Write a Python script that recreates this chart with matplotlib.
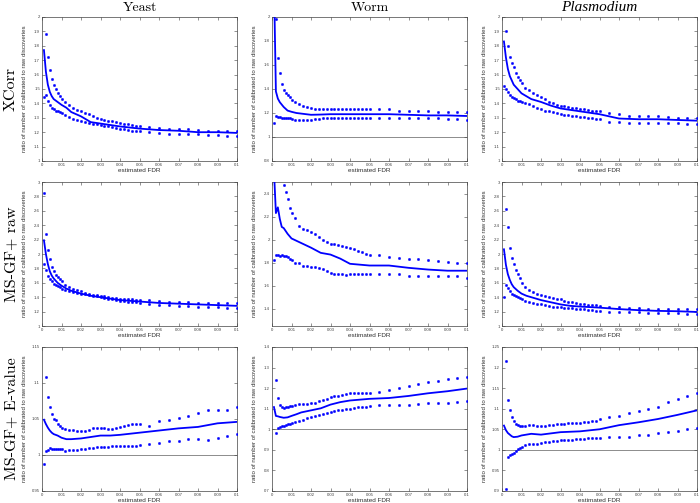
import numpy as np
import matplotlib
matplotlib.use('Agg')
import matplotlib.pyplot as plt
from matplotlib.ticker import FuncFormatter

nan = np.nan

# estimated FDR positions of the dotted bounds
x_dots = [0.001, 0.002, 0.003, 0.004, 0.005, 0.006, 0.007, 0.008, 0.009, 0.010,
          0.012, 0.014, 0.016, 0.018, 0.020, 0.022, 0.024, 0.026, 0.028, 0.030,
          0.032, 0.034, 0.036, 0.038, 0.040, 0.042, 0.044, 0.046, 0.048, 0.050,
          0.055, 0.060, 0.065, 0.070, 0.075, 0.080, 0.085, 0.090, 0.095, 0.100]
# estimated FDR positions of the solid median line
x_line = [0.001, 0.002, 0.003, 0.004, 0.005, 0.006, 0.008, 0.010, 0.0125, 0.015,
          0.020, 0.025, 0.030, 0.035, 0.040, 0.050, 0.060, 0.070, 0.080, 0.090, 0.100]

col_titles = ["Yeast", "Worm", "Plasmodium"]
row_titles = ["XCorr", "MS-GF+ raw", "MS-GF+ E-value"]

# ---------------- XCorr ----------------
yeast_xcorr_line = [1.77, 1.62, 1.53, 1.48, 1.45, 1.43, 1.41, 1.39, 1.37, 1.34,
                    1.31, 1.27, 1.26, 1.25, 1.24, 1.225, 1.215, 1.21, 1.20, 1.20, 1.195]
yeast_xcorr_upper = [nan, 1.88, 1.72, 1.63, 1.57, 1.53, 1.50, 1.47, 1.45, 1.43,
                     1.41, 1.39, 1.37, 1.355, 1.345, 1.335, 1.325, 1.31, 1.30, 1.29,
                     1.285, 1.28, 1.275, 1.27, 1.265, 1.26, 1.255, 1.25, 1.245, 1.24,
                     1.235, 1.23, 1.225, 1.22, 1.22, 1.215, 1.21, 1.21, 1.205, 1.205]
yeast_xcorr_lower = [1.445, 1.46, 1.42, 1.39, 1.37, 1.36, 1.35, 1.345, 1.34, 1.335,
                     1.32, 1.305, 1.295, 1.285, 1.28, 1.27, 1.265, 1.26, 1.255, 1.25,
                     1.245, 1.24, 1.235, 1.23, 1.225, 1.22, 1.215, 1.21, 1.21, 1.205,
                     1.20, 1.195, 1.19, 1.19, 1.185, 1.185, 1.18, 1.18, 1.175, 1.175]

worm_xcorr_line = [2.3, 1.38, 1.32, 1.29, 1.27, 1.25, 1.22, 1.21, 1.20, 1.195,
                   1.185, 1.187, 1.19, 1.19, 1.19, 1.19, 1.19, 1.185, 1.18, 1.18, 1.175]
worm_xcorr_upper = [nan, 1.98, 1.66, 1.53, 1.44, 1.395, 1.37, 1.35, 1.33, 1.31,
                    1.29, 1.275, 1.26, 1.25, 1.24, 1.235, 1.23, 1.23, 1.23, 1.23,
                    1.23, 1.23, 1.23, 1.23, 1.23, 1.23, 1.23, 1.23, 1.23, 1.23,
                    1.23, 1.23, 1.22, 1.22, 1.215, 1.215, 1.21, 1.21, 1.21, 1.21]
worm_xcorr_lower = [1.12, 1.175, 1.17, 1.165, 1.16, 1.16, 1.16, 1.155, 1.155, 1.15,
                    1.145, 1.14, 1.14, 1.14, 1.145, 1.15, 1.15, 1.155, 1.16, 1.16,
                    1.16, 1.16, 1.16, 1.16, 1.16, 1.16, 1.16, 1.16, 1.16, 1.16,
                    1.16, 1.16, 1.16, 1.155, 1.155, 1.155, 1.155, 1.15, 1.15, 1.145]

plas_xcorr_line = [1.83, 1.72, 1.64, 1.59, 1.56, 1.53, 1.50, 1.47, 1.45, 1.43,
                   1.41, 1.385, 1.365, 1.355, 1.345, 1.325, 1.295, 1.29, 1.29, 1.285, 1.28]
plas_xcorr_upper = [nan, 1.90, 1.80, 1.72, 1.68, 1.65, 1.61, 1.58, 1.56, 1.545,
                    1.51, 1.49, 1.47, 1.46, 1.445, 1.43, 1.41, 1.40, 1.39, 1.385,
                    1.38, 1.375, 1.37, 1.365, 1.36, 1.36, 1.355, 1.35, 1.35, 1.345,
                    1.335, 1.325, 1.315, 1.31, 1.31, 1.31, 1.305, 1.30, 1.30, 1.30]
plas_xcorr_lower = [1.52, 1.50, 1.48, 1.46, 1.445, 1.44, 1.43, 1.42, 1.415, 1.41,
                    1.405, 1.395, 1.38, 1.37, 1.36, 1.35, 1.345, 1.34, 1.33, 1.325,
                    1.32, 1.316, 1.313, 1.31, 1.308, 1.305, 1.302, 1.298, 1.294, 1.29,
                    1.27, 1.268, 1.266, 1.266, 1.264, 1.264, 1.262, 1.262, 1.26, 1.255]

# ---------------- MS-GF+ raw ----------------
yeast_raw_line = [2.19, 2.0, 1.86, 1.76, 1.70, 1.66, 1.60, 1.56, 1.52, 1.49,
                  1.45, 1.42, 1.40, 1.38, 1.36, 1.34, 1.32, 1.31, 1.30, 1.29, 1.28]
yeast_raw_upper = [2.85, 2.28, 2.05, 1.93, 1.82, 1.76, 1.71, 1.68, 1.65, 1.62,
                   1.57, 1.54, 1.52, 1.50, 1.48, 1.46, 1.45, 1.435, 1.425, 1.415,
                   1.41, 1.40, 1.39, 1.385, 1.38, 1.375, 1.37, 1.37, 1.365, 1.365,
                   1.36, 1.35, 1.34, 1.335, 1.33, 1.325, 1.32, 1.32, 1.315, 1.315]
yeast_raw_lower = [1.86, 1.78, 1.70, 1.65, 1.62, 1.59, 1.57, 1.555, 1.54, 1.52,
                   1.50, 1.49, 1.47, 1.46, 1.45, 1.44, 1.43, 1.42, 1.41, 1.40,
                   1.39, 1.38, 1.37, 1.36, 1.35, 1.345, 1.34, 1.335, 1.33, 1.325,
                   1.30, 1.29, 1.285, 1.28, 1.275, 1.27, 1.265, 1.26, 1.255, 1.25]

worm_raw_line = [2.6, 2.23, 2.28, 2.18, 2.11, 2.10, 2.05, 2.01, 1.99, 1.97,
                 1.93, 1.885, 1.87, 1.835, 1.79, 1.775, 1.775, 1.755, 1.74, 1.73, 1.73]
worm_raw_upper = [nan, nan, nan, nan, nan, 2.47, 2.41, 2.35, 2.27, 2.23,
                  2.19, 2.12, 2.09, 2.08, 2.065, 2.05, 2.02, 2.0, 1.98, 1.965,
                  1.96, 1.95, 1.945, 1.94, 1.93, 1.915, 1.90, 1.89, 1.875, 1.865,
                  1.865, 1.85, 1.84, 1.835, 1.83, 1.825, 1.815, 1.805, 1.80, 1.80]
worm_raw_lower = [1.82, 1.87, 1.865, 1.86, 1.865, 1.86, 1.855, 1.845, 1.83, 1.82,
                  1.80, 1.795, 1.775, 1.77, 1.765, 1.76, 1.755, 1.745, 1.725, 1.71,
                  1.705, 1.70, 1.70, 1.695, 1.70, 1.70, 1.70, 1.70, 1.70, 1.70,
                  1.70, 1.70, 1.70, 1.685, 1.685, 1.68, 1.68, 1.68, 1.68, 1.665]

plas_raw_line = [2.065, 1.85, 1.72, 1.64, 1.58, 1.54, 1.49, 1.45, 1.42, 1.40,
                 1.36, 1.33, 1.30, 1.28, 1.27, 1.255, 1.235, 1.22, 1.21, 1.205, 1.195]
plas_raw_upper = [nan, 2.625, 2.37, 2.08, 1.95, 1.86, 1.78, 1.72, 1.66, 1.60,
                  1.54, 1.50, 1.47, 1.45, 1.43, 1.42, 1.40, 1.39, 1.38, 1.37,
                  1.35, 1.34, 1.33, 1.32, 1.31, 1.30, 1.295, 1.29, 1.285, 1.28,
                  1.265, 1.26, 1.25, 1.245, 1.24, 1.24, 1.235, 1.235, 1.23, 1.23]
plas_raw_lower = [1.40, 1.57, 1.53, 1.49, 1.45, 1.43, 1.42, 1.40, 1.39, 1.38,
                  1.35, 1.33, 1.325, 1.31, 1.30, 1.29, 1.28, 1.27, 1.265, 1.26,
                  1.255, 1.25, 1.245, 1.24, 1.235, 1.23, 1.225, 1.22, 1.215, 1.21,
                  1.20, 1.195, 1.19, 1.19, 1.185, 1.18, 1.175, 1.175, 1.17, 1.17]

# ---------------- MS-GF+ E-value ----------------
yeast_e_line = [1.049, 1.043, 1.038, 1.034, 1.031, 1.029, 1.027, 1.024, 1.022, 1.022,
                1.023, 1.025, 1.027, 1.027, 1.028, 1.031, 1.034, 1.037, 1.039, 1.044, 1.046]
yeast_e_upper = [nan, 1.108, 1.081, 1.066, 1.057, 1.050, 1.048, 1.043, 1.040, 1.038,
                 1.036, 1.035, 1.035, 1.034, 1.033, 1.033, 1.035, 1.037, 1.038, 1.038,
                 1.037, 1.036, 1.036, 1.037, 1.039, 1.040, 1.042, 1.043, 1.043, 1.043,
                 1.040, 1.047, 1.049, 1.051, 1.054, 1.058, 1.062, 1.062, 1.063, 1.066]
yeast_e_lower = [0.9875, 1.005, 1.007, 1.010, 1.008, 1.008, 1.008, 1.009, 1.008, 1.008,
                 1.0055, 1.007, 1.007, 1.007, 1.008, 1.009, 1.010, 1.010, 1.011, 1.011,
                 1.011, 1.011, 1.012, 1.012, 1.012, 1.013, 1.013, 1.013, 1.013, 1.014,
                 1.015, 1.017, 1.019, 1.020, 1.022, 1.022, 1.021, 1.024, 1.027, 1.029]

worm_e_line = [1.108, 1.065, 1.063, 1.060, 1.058, 1.056, 1.058, 1.065, 1.073, 1.082,
               1.092, 1.102, 1.120, 1.132, 1.140, 1.148, 1.152, 1.162, 1.175, 1.185, 1.198]
worm_e_upper = [nan, 1.238, 1.15, 1.12, 1.107, 1.105, 1.107, 1.11, 1.113, 1.115,
                1.12, 1.123, 1.123, 1.125, 1.127, 1.13, 1.136, 1.142, 1.149, 1.155,
                1.16, 1.163, 1.168, 1.17, 1.175, 1.176, 1.178, 1.178, 1.178, 1.178,
                1.183, 1.193, 1.20, 1.209, 1.22, 1.231, 1.236, 1.243, 1.249, 1.256]
worm_e_lower = [nan, 0.98, 1.005, 1.012, 1.015, 1.018, 1.022, 1.025, 1.027, 1.03,
                1.034, 1.04, 1.047, 1.053, 1.058, 1.063, 1.068, 1.073, 1.078, 1.083,
                1.088, 1.092, 1.095, 1.098, 1.10, 1.103, 1.106, 1.108, 1.11, 1.112,
                1.118, 1.12, 1.12, 1.12, 1.123, 1.128, 1.13, 1.13, 1.133, 1.138]

plas_e_line = [1.059, 1.048, 1.041, 1.037, 1.033, 1.031, 1.032, 1.035, 1.037, 1.039,
               1.037, 1.040, 1.043, 1.044, 1.045, 1.050, 1.060, 1.067, 1.075, 1.085, 1.096]
plas_e_upper = [nan, 1.216, 1.122, 1.096, 1.081, 1.069, 1.063, 1.061, 1.059, 1.058,
                1.059, 1.060, 1.060, 1.059, 1.058, 1.059, 1.060, 1.061, 1.062, 1.063,
                1.064, 1.065, 1.065, 1.066, 1.066, 1.067, 1.067, 1.069, 1.071, 1.074,
                1.079, 1.083, 1.090, 1.095, 1.100, 1.105, 1.116, 1.124, 1.132, 1.139]
plas_e_lower = [nan, 0.904, 0.982, 0.988, 0.989, 0.9935, 0.998, 1.002, 1.005, 1.008,
                1.011, 1.014, 1.014, 1.015, 1.016, 1.018, 1.019, 1.021, 1.022, 1.023,
                1.024, 1.025, 1.025, 1.026, 1.027, 1.0275, 1.028, 1.028, 1.029, 1.029,
                1.031, 1.031, 1.032, 1.035, 1.037, 1.042, 1.044, 1.047, 1.050, 1.053]

panels = [
    [(yeast_xcorr_line, yeast_xcorr_upper, yeast_xcorr_lower),
     (worm_xcorr_line, worm_xcorr_upper, worm_xcorr_lower),
     (plas_xcorr_line, plas_xcorr_upper, plas_xcorr_lower)],
    [(yeast_raw_line, yeast_raw_upper, yeast_raw_lower),
     (worm_raw_line, worm_raw_upper, worm_raw_lower),
     (plas_raw_line, plas_raw_upper, plas_raw_lower)],
    [(yeast_e_line, yeast_e_upper, yeast_e_lower),
     (worm_e_line, worm_e_upper, worm_e_lower),
     (plas_e_line, plas_e_upper, plas_e_lower)],
]

# axis settings (limits, first tick, tick step, reference line at 1)
axis_cfg = [
    [((1, 2), 1.0, 0.1, False), ((0.8, 2), 0.8, 0.2, True), ((1, 2), 1.0, 0.1, False)],
    [((1, 3), 1.0, 0.2, False), ((1.25, 2.5), 1.4, 0.2, False), ((1, 3), 1.0, 0.2, False)],
    [((0.95, 1.15), 0.95, 0.05, True), ((0.7, 1.4), 0.7, 0.1, True), ((0.9, 1.25), 0.9, 0.05, True)],
]

W, H = 700, 503
fig = plt.figure(figsize=(7.0, 5.03), dpi=100)

col_left = [42, 272, 502]
row_top = [17, 182, 347]
aw, ah = 195, 144
tick_font = 'Liberation Sans'
blue = (0, 0, 1)
edge = '#404040'

fmt = FuncFormatter(lambda v, p: '%g' % round(v, 4))

for r in range(3):
    for c in range(3):
        ax = fig.add_axes([col_left[c] / W, 1 - (row_top[r] + ah) / H, aw / W, ah / H])
        line, up, lo = panels[r][c]
        (y0, y1), tstart, tstep, hline = axis_cfg[r][c]
        if hline:
            ax.axhline(1.0, color='#8c8c8c', lw=0.7, zorder=1)
        ax.plot(x_line, line, color=blue, lw=1.3, zorder=3)
        ax.plot(x_dots, up, linestyle='none', marker='o', ms=1.7, mfc=blue, mec=blue, mew=0.3, zorder=4)
        ax.plot(x_dots, lo, linestyle='none', marker='o', ms=1.7, mfc=blue, mec=blue, mew=0.3, zorder=4)
        ax.set_xlim(0, 0.1)
        ax.set_ylim(y0, y1)
        ax.set_xticks(np.round(np.arange(0, 0.1001, 0.01), 3))
        yt = np.round(np.arange(tstart, y1 + 1e-9, tstep), 3)
        ax.set_yticks(yt)
        ax.xaxis.set_major_formatter(fmt)
        ax.yaxis.set_major_formatter(fmt)
        ax.tick_params(direction='in', top=True, right=True, length=2, width=0.4,
                       labelsize=3.1, colors=edge, pad=1.5)
        for lab in ax.get_xticklabels() + ax.get_yticklabels():
            lab.set_family(tick_font)
        for s in ax.spines.values():
            s.set_linewidth(0.5)
            s.set_color(edge)
        ax.set_xlabel('estimated FDR', fontsize=4.6, family=tick_font, color='#303030')
        ax.xaxis.set_label_coords(0.5, -0.05)
        ax.set_ylabel('ratio of number of calibrated to raw discoveries', fontsize=4.4,
                      family=tick_font, color='#303030')
        ax.yaxis.set_label_coords(-0.076, 0.5)

# column titles
for c, t in enumerate(col_titles):
    xc = (col_left[c] + aw / 2) / W
    if c == 2:
        fig.text(xc, 1 - 7.5 / H, t, ha='center', va='center', fontsize=11,
                 family='Liberation Serif', style='italic')
    else:
        fig.text(xc, 1 - 7.5 / H, t, ha='center', va='center', fontsize=10, family='cmr10')

# row titles
for r, t in enumerate(row_titles):
    yc = 1 - (row_top[r] + ah / 2) / H
    fig.text(11 / W, yc, t, ha='center', va='center', rotation=90, fontsize=11.5, family='cmr10')

fig.savefig('out.png', dpi=100)
